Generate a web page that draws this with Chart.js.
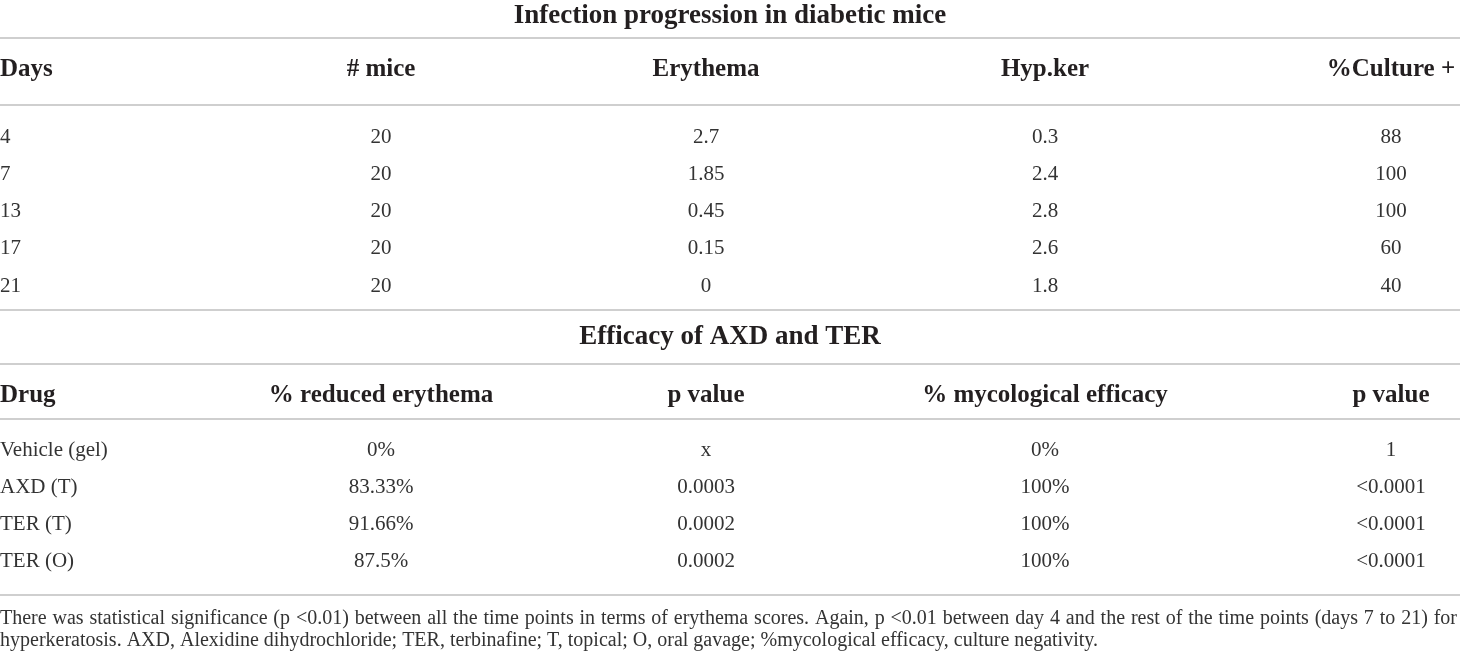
<!DOCTYPE html>
<html>
<head>
<meta charset="utf-8">
<script src="https://cdn.jsdelivr.net/npm/chart.js@4.4.1/dist/chart.umd.min.js"></script>
<style>
html, body { margin: 0; padding: 0; background: #fff; }
#wrap { width: 1460px; height: 656px; }
</style>
</head>
<body>
<div id="wrap"><canvas id="tbl" width="1460" height="656"></canvas></div>
<script>
// table 1: infection progression
const title1 = 'Infection progression in diabetic mice';
const head1 = ['Days', '# mice', 'Erythema', 'Hyp.ker', '%Culture +'];
const days = [4, 7, 13, 17, 21];
const mice = [20, 20, 20, 20, 20];
const erythema = [2.7, 1.85, 0.45, 0.15, 0];
const hypKer = [0.3, 2.4, 2.8, 2.6, 1.8];
const culturePos = [88, 100, 100, 60, 40];

// table 2: efficacy
const title2 = 'Efficacy of AXD and TER';
const head2 = ['Drug', '% reduced erythema', 'p value', '% mycological efficacy', 'p value'];
const drugs = ['Vehicle (gel)', 'AXD (T)', 'TER (T)', 'TER (O)'];
const reducedErythema = [0, 83.33, 91.66, 87.5];
const pErythema = ['x', '0.0003', '0.0002', '0.0002'];
const mycoEfficacy = [0, 100, 100, 100];
const pMyco = ['1', '<0.0001', '<0.0001', '<0.0001'];

const footnote = [
  'There was statistical significance (p <0.01) between all the time points in terms of erythema scores. Again, p <0.01 between day 4 and the rest of the time points (days 7 to 21) for',
  'hyperkeratosis. AXD, Alexidine dihydrochloride; TER, terbinafine; T, topical; O, oral gavage; %mycological efficacy, culture negativity.'
];

// layout
const W = 1460, H = 656;
const colX = [0, 381, 706, 1045, 1391];
const colAlign = ['left', 'center', 'center', 'center', 'center'];
const pitch = 37.3;
const t1 = { title: 16, head: 70, first: 137 };
const t2 = { title: 337, head: 396, first: 450 };
const rules = [38, 105, 310, 364, 419, 595];
const footY = [619, 641];

const FONT = '"Liberation Serif", "Times New Roman", serif';
const headFont = 'bold 25px ' + FONT;
const bodyFont = '21px ' + FONT;
const titleFont = 'bold 27px ' + FONT;
const footFont = '20px ' + FONT;
const ink = '#231f20';
const bodyInk = '#333333';
const ruleColor = '#cfcfcf';

const pct = v => v + '%';

function headerSet(labels, y) {
  return {
    data: labels.map((_, c) => ({ x: colX[c], y: y })),
    cellText: labels, cellFont: headFont, cellColor: ink,
    cellAlign: labels.map((_, c) => colAlign[c])
  };
}
function columnSet(values, c, t) {
  return {
    data: values.map((_, r) => ({ x: colX[c], y: t.first + r * pitch })),
    cellText: values.map(String), cellFont: bodyFont, cellColor: bodyInk,
    cellAlign: values.map(() => colAlign[c])
  };
}

const datasets = [
  headerSet(head1, t1.head),
  columnSet(days, 0, t1),
  columnSet(mice, 1, t1),
  columnSet(erythema, 2, t1),
  columnSet(hypKer, 3, t1),
  columnSet(culturePos, 4, t1),
  headerSet(head2, t2.head),
  columnSet(drugs, 0, t2),
  columnSet(reducedErythema.map(pct), 1, t2),
  columnSet(pErythema, 2, t2),
  columnSet(mycoEfficacy.map(pct), 3, t2),
  columnSet(pMyco, 4, t2)
];
datasets.forEach(ds => { ds.pointRadius = 0; ds.pointHoverRadius = 0; ds.showLine = false; });

function drawJustified(ctx, text, x0, x1, y) {
  const words = text.split(' ');
  const widths = words.map(w => ctx.measureText(w).width);
  const total = widths.reduce((a, b) => a + b, 0);
  const gap = (x1 - x0 - total) / (words.length - 1);
  let x = x0;
  words.forEach((w, i) => { ctx.fillText(w, x, y); x += widths[i] + gap; });
}

const tablePlugin = {
  id: 'tablePlugin',
  afterDatasetsDraw(chart) {
    const ctx = chart.ctx;
    const xs = chart.scales.x, ys = chart.scales.y;
    ctx.save();
    ctx.textBaseline = 'middle';

    ctx.strokeStyle = ruleColor;
    ctx.lineWidth = 2;
    rules.forEach(v => {
      const y = Math.round(ys.getPixelForValue(v));
      ctx.beginPath();
      ctx.moveTo(xs.getPixelForValue(0), y);
      ctx.lineTo(xs.getPixelForValue(W), y);
      ctx.stroke();
    });

    chart.data.datasets.forEach((ds, i) => {
      const meta = chart.getDatasetMeta(i);
      ctx.font = ds.cellFont;
      ctx.fillStyle = ds.cellColor;
      meta.data.forEach((pt, j) => {
        ctx.textAlign = ds.cellAlign[j];
        ctx.fillText(ds.cellText[j], pt.x, pt.y);
      });
    });

    ctx.font = titleFont;
    ctx.fillStyle = ink;
    ctx.textAlign = 'center';
    ctx.fillText(title1, xs.getPixelForValue(W / 2), ys.getPixelForValue(t1.title));
    ctx.fillText(title2, xs.getPixelForValue(W / 2), ys.getPixelForValue(t2.title));

    ctx.font = footFont;
    ctx.fillStyle = bodyInk;
    ctx.textAlign = 'left';
    drawJustified(ctx, footnote[0], xs.getPixelForValue(0), xs.getPixelForValue(W - 3), ys.getPixelForValue(footY[0]));
    ctx.fillText(footnote[1], xs.getPixelForValue(0), ys.getPixelForValue(footY[1]));
    ctx.restore();
  }
};

new Chart(document.getElementById('tbl'), {
  type: 'scatter',
  data: { datasets: datasets },
  options: {
    responsive: false,
    animation: false,
    events: [],
    layout: { padding: 0 },
    plugins: { legend: { display: false }, tooltip: { enabled: false } },
    scales: {
      x: { type: 'linear', display: false, min: 0, max: W },
      y: { type: 'linear', display: false, min: 0, max: H, reverse: true }
    }
  },
  plugins: [tablePlugin]
});
</script>
</body>
</html>
